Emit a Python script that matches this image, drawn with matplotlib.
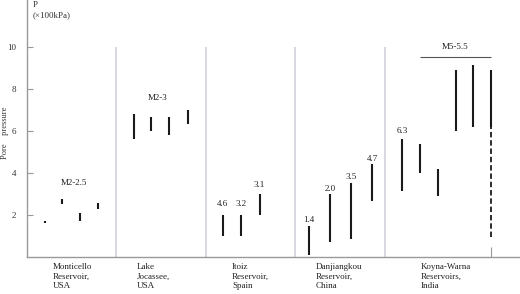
import matplotlib
matplotlib.use("Agg")
import matplotlib.pyplot as plt

plt.rcParams['font.family'] = ['Liberation Serif', 'DejaVu Serif']

# reservoir groups (x-axis categories)
groups = ["Monticello\nReservoir,\nUSA", "Lake\nJocassee,\nUSA", "Itoiz\nReservoir,\nSpain",
          "Danjiangkou\nReservoir,\nChina", "Koyna-Warna\nReservoirs,\nIndia"]

# pore pressure ranges (x100 kPa), one entry per measured range
bar_x = [0.20, 0.39, 0.59, 0.79,
         1.20, 1.39, 1.59, 1.80,
         2.19, 2.39, 2.60,
         3.15, 3.39, 3.62, 3.86,
         4.19, 4.39, 4.59, 4.79, 4.99, 5.19]
bar_lo = [1.64, 2.52, 1.73, 2.30,
          5.60, 6.01, 5.81, 6.32,
          1.00, 1.00, 2.00,
          0.10, 0.70, 0.84, 2.67,
          3.16, 3.98, 2.90, 6.00, 6.20, 6.20]
bar_hi = [1.71, 2.75, 2.08, 2.59,
          6.81, 6.68, 6.68, 7.00,
          2.00, 2.00, 3.00,
          1.48, 2.98, 3.51, 4.41,
          5.60, 5.38, 4.19, 8.90, 9.13, 8.90]

# uncertain (dashed) extension of the last Koyna range
dash_x = 5.19
dash_lo = 0.97
dash_hi = 6.20

# magnitude labels
mag_text = ["M2-2.5", "M2-3", "4.6", "3.2", "3.1", "1.4", "2.0", "3.5", "4.7", "6.3", "M5-5.5"]
mag_x = [0.52, 1.46, 2.19, 2.39, 2.60, 3.15, 3.39, 3.62, 3.86, 4.19, 4.78]
mag_y = [3.54, 7.59, 2.52, 2.52, 3.41, 1.76, 3.24, 3.83, 4.65, 6.00, 10.0]

bracket_y = 9.54
bracket_x0, bracket_x1 = 4.39, 5.19

separators = [1, 2, 3, 4]
yticks = [2, 4, 6, 8, 10]

fig = plt.figure(figsize=(5.2, 2.94), dpi=100)
ax = fig.add_axes([27 / 520, 37 / 294, 1 - 27 / 520, 257 / 294])
ax.set_xlim(0, 5.51)
ax.set_ylim(0, 12.24)

ax.vlines(separators, 0, 10, color='#cbcdda', lw=1.1, zorder=1)
ax.vlines(bar_x, bar_lo, bar_hi, color='#1a1a1a', lw=1.5, zorder=3)
ax.vlines([dash_x], [dash_lo], [dash_hi], color='#1a1a1a', lw=1.3,
          linestyles=(0, (3, 1.6)), zorder=3)
ax.hlines(bracket_y, bracket_x0, bracket_x1, color='#555555', lw=0.8)

for t, x, y in zip(mag_text, mag_x, mag_y):
    ax.text(x, y, t, ha='center', va='center', fontsize=6.5, color='#222222')

for i, g in enumerate(groups):
    ax.text(i + 0.29 - (0.06 if i in (1, 3) else 0) + (0.11 if i == 4 else 0), -0.3, g,
            ha='left', va='top', fontsize=6.5, linespacing=1.25, color='#222222')

for s in ['top', 'right']:
    ax.spines[s].set_visible(False)
for s in ['left', 'bottom']:
    ax.spines[s].set_color('#999999')
    ax.spines[s].set_linewidth(1.0)

ax.set_yticks(yticks)
ax.set_yticklabels([str(v) for v in yticks])
ax.tick_params(axis='y', direction='in', length=4, width=0.8, color='#999999',
               labelsize=6.5, labelcolor='#333333', pad=8)
ax.set_xticks([dash_x])
ax.set_xticklabels([''])
ax.tick_params(axis='x', direction='in', length=7, width=0.8, color='#999999')

fig.text(5 / 520, 1 - 133 / 294, "Pore    pressure", rotation=90, ha='center', va='center',
         fontsize=6, color='#333333')
fig.text(33 / 520, 0.998, "P", ha='left', va='top', fontsize=6.5, color='#333333')
fig.text(33 / 520, 1 - 15 / 294, "(×100kPa)", ha='left', va='center', fontsize=6.5,
         color='#333333')

fig.savefig("out.png", dpi=100, facecolor='white')
